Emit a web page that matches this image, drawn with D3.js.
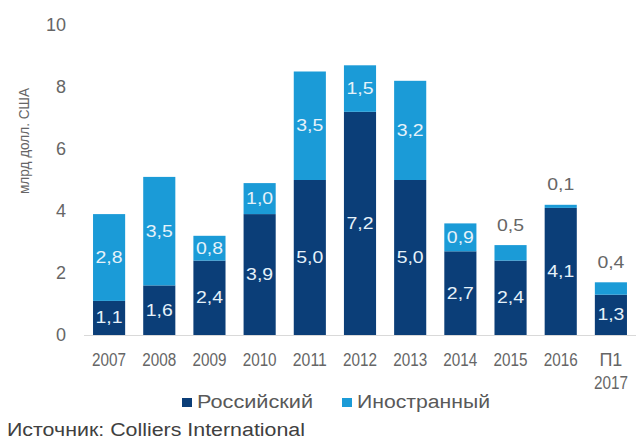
<!DOCTYPE html>
<html>
<head>
<meta charset="utf-8">
<script src="https://cdn.jsdelivr.net/npm/d3@7"></script>
<style>
  html, body { margin: 0; padding: 0; background: #fff; }
  svg { display: block; font-family: "Liberation Sans", Arial, sans-serif; }
</style>
</head>
<body>
<svg id="chart" width="637" height="441"></svg>
<script>
// Investment volume by year, bln USD
const categories = ["2007", "2008", "2009", "2010", "2011", "2012", "2013", "2014", "2015", "2016", "П1 2017"];
const russian   = [1.1, 1.6, 2.4, 3.9, 5.0, 7.2, 5.0, 2.7, 2.4, 4.1, 1.3];
const foreign   = [2.8, 3.5, 0.8, 1.0, 3.5, 1.5, 3.2, 0.9, 0.5, 0.1, 0.4];
const yTicks    = [0, 2, 4, 6, 8, 10];
const seriesNames = ["Российский", "Иностранный"];
const colors = ["#0b3e78", "#1b9bd7"];

const svg = d3.select("#chart");

const x = d3.scaleBand()
  .domain(categories)
  .range([84, 636])
  .paddingInner(0.36)
  .paddingOuter(0.18);

const y = d3.scaleLinear().domain([0, 10]).range([335, 25]);

const fmt = v => v.toFixed(1).replace(".", ",");

// stacked layout
const rows = categories.map((c, i) => ({ cat: c, ru: russian[i], fo: foreign[i] }));
const stack = d3.stack().keys(["ru", "fo"])(rows);

// baseline
svg.append("line")
  .attr("x1", x.range()[0]).attr("x2", x.range()[1])
  .attr("y1", y(0) + 0.5).attr("y2", y(0) + 0.5)
  .attr("stroke", "#d9d9d9").attr("stroke-width", 1);

// bars
stack.forEach((layer, li) => {
  svg.append("g").selectAll("rect")
    .data(layer)
    .join("rect")
    .attr("x", d => x(d.data.cat))
    .attr("width", x.bandwidth())
    .attr("y", d => y(d[1]))
    .attr("height", d => y(d[0]) - y(d[1]))
    .attr("fill", colors[li]);
});

// value labels: inside segments, small ones above the bar
const labels = svg.append("g").attr("font-size", 17);
stack.forEach((layer) => {
  layer.forEach(d => {
    const v = d[1] - d[0];
    const cx = x(d.data.cat) + x.bandwidth() / 2;
    const small = v < 0.6;
    labels.append("text")
      .attr("x", cx)
      .attr("y", small ? y(d[1]) - 20 : (y(d[0]) + y(d[1])) / 2)
      .attr("text-anchor", "middle")
      .attr("dominant-baseline", "central")
      .attr("fill", small ? "#666666" : "#e6f2fa")
      .attr("textLength", 27)
      .attr("lengthAdjust", "spacingAndGlyphs")
      .text(fmt(v));
  });
});

// y axis labels
const yAxis = svg.append("g").attr("fill", "#666666").attr("font-size", 18);
yAxis.selectAll("text")
  .data(yTicks)
  .join("text")
  .attr("x", 66)
  .attr("y", d => y(d))
  .attr("text-anchor", "end")
  .attr("dominant-baseline", "central")
  .text(d => d);

svg.append("text")
  .attr("transform", "translate(23," + 141 + ") rotate(-90)")
  .attr("text-anchor", "middle")
  .attr("dominant-baseline", "central")
  .attr("font-size", 15)
  .attr("fill", "#666666")
  .attr("textLength", 106)
  .attr("lengthAdjust", "spacingAndGlyphs")
  .text("млрд долл. США");

// x axis labels
const xAxis = svg.append("g").attr("fill", "#666666").attr("font-size", 18);
categories.forEach(c => {
  const cx = x(c) + x.bandwidth() / 2;
  const parts = c.split(" ");
  parts.forEach((p, i) => {
    xAxis.append("text")
      .attr("x", cx)
      .attr("y", 360 + i * 23)
      .attr("text-anchor", "middle")
      .attr("dominant-baseline", "central")
      .attr("textLength", p.length === 4 ? 34 : null)
      .attr("lengthAdjust", "spacingAndGlyphs")
      .text(p);
  });
});

// legend
const legendItems = [
  { name: seriesNames[0], color: colors[0], x: 182, w: 116 },
  { name: seriesNames[1], color: colors[1], x: 342, w: 133 }
];
const legend = svg.append("g");
legendItems.forEach(it => {
  legend.append("rect")
    .attr("x", it.x).attr("y", 398)
    .attr("width", 10).attr("height", 9)
    .attr("fill", it.color);
  legend.append("text")
    .attr("x", it.x + 15).attr("y", 402)
    .attr("dominant-baseline", "central")
    .attr("font-size", 18)
    .attr("fill", "#595959")
    .attr("textLength", it.w)
    .attr("lengthAdjust", "spacingAndGlyphs")
    .text(it.name);
});

// source note
svg.append("text")
  .attr("x", 7).attr("y", 430)
  .attr("dominant-baseline", "central")
  .attr("font-size", 18)
  .attr("fill", "#404040")
  .attr("textLength", 298)
  .attr("lengthAdjust", "spacingAndGlyphs")
  .text("Источник: Colliers International");
</script>
</body>
</html>
